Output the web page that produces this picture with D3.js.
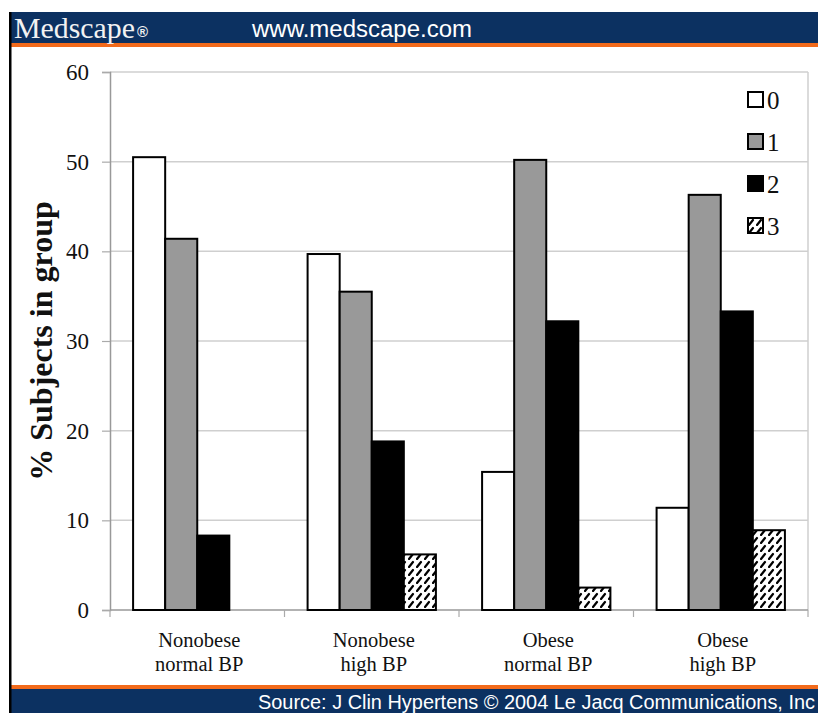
<!DOCTYPE html>
<html>
<head>
<meta charset="utf-8">
<script src="https://cdn.jsdelivr.net/npm/d3@7"></script>
<style>
  html, body { margin: 0; padding: 0; background: #fff; }
  svg { display: block; }
</style>
</head>
<body>
<svg id="chart" width="818" height="713"></svg>
<script>
// Share of subjects by number of risk alleles, per obesity / blood-pressure group
const groups = [["Nonobese", "normal BP"], ["Nonobese", "high BP"], ["Obese", "normal BP"], ["Obese", "high BP"]];
const seriesKeys = ["0", "1", "2", "3"];
const values0 = [50.5, 39.7, 15.4, 11.4];
const values1 = [41.4, 35.5, 50.2, 46.3];
const values2 = [8.3, 18.8, 32.2, 33.3];
const values3 = [0, 6.2, 2.5, 8.9];
const yTicks = [0, 10, 20, 30, 40, 50, 60];

const seriesValues = [values0, values1, values2, values3];
const fills = ["#ffffff", "#999999", "#000000", "url(#hatch)"];

const svg = d3.select("#chart");
const W = 818, H = 713;
const navy = "#0c3161", orange = "#f26a1b";

// hatch fill for the last series
const defs = svg.append("defs");
const pat = defs.append("pattern")
  .attr("id", "hatch").attr("patternUnits", "userSpaceOnUse")
  .attr("width", 8).attr("height", 8);
pat.append("rect").attr("width", 8).attr("height", 8).attr("fill", "#fff");
pat.append("path").attr("d", "M1,7 L5,2").attr("stroke", "#000").attr("stroke-width", 2.2).attr("stroke-linecap", "round");

// header band
svg.append("rect").attr("x", 10).attr("y", 12).attr("width", W - 10).attr("height", 32).attr("fill", navy);
svg.append("rect").attr("x", 10).attr("y", 43).attr("width", W - 10).attr("height", 4).attr("fill", orange);
svg.append("text").attr("x", 14).attr("y", 38)
  .attr("font-family", "Liberation Serif, serif").attr("font-size", 29).attr("fill", "#f2f2f2")
  .attr("textLength", 121).attr("lengthAdjust", "spacingAndGlyphs")
  .text("Medscape");
svg.append("text").attr("x", 137).attr("y", 37)
  .attr("font-family", "Liberation Sans, sans-serif").attr("font-size", 15).attr("font-weight", "bold").attr("fill", "#f2f2f2")
  .text("®");
svg.append("text").attr("x", 252).attr("y", 37)
  .attr("font-family", "Liberation Sans, Arial, sans-serif").attr("font-size", 23).attr("fill", "#ffffff")
  .attr("textLength", 220).attr("lengthAdjust", "spacingAndGlyphs")
  .text("www.medscape.com");

// footer band
svg.append("rect").attr("x", 10).attr("y", 685).attr("width", W - 10).attr("height", 5).attr("fill", orange);
svg.append("rect").attr("x", 10).attr("y", 689).attr("width", W - 10).attr("height", H - 689).attr("fill", navy);
svg.append("text").attr("x", 258).attr("y", 709)
  .attr("font-family", "Liberation Sans, Arial, sans-serif").attr("font-size", 19.5).attr("fill", "#ffffff")
  .attr("textLength", 557).attr("lengthAdjust", "spacingAndGlyphs")
  .text("Source: J Clin Hypertens © 2004 Le Jacq Communications, Inc");

// left border
svg.append("rect").attr("x", 9).attr("y", 12).attr("width", 2.5).attr("height", H - 12).attr("fill", "#000");

// plot area
const plotLeft = 110, plotRight = 808, plotTop = 72, plotBottom = 610;
const x0 = d3.scaleBand().domain(d3.range(groups.length)).range([plotLeft, plotRight]).paddingInner(0).paddingOuter(0);
const x1 = d3.scaleBand().domain(seriesKeys).range([0, x0.bandwidth()]).paddingOuter(0.72).paddingInner(0);
const y = d3.scaleLinear().domain([0, 60]).range([plotBottom, plotTop]);

// grid lines
svg.append("g").selectAll("line").data(yTicks.filter(d => d > 0)).join("line")
  .attr("x1", plotLeft).attr("x2", plotRight)
  .attr("y1", d => y(d)).attr("y2", d => y(d))
  .attr("stroke", "#cfcfcf").attr("stroke-width", 1.5);
// right border of plot
svg.append("line").attr("x1", plotRight).attr("x2", plotRight).attr("y1", plotTop).attr("y2", plotBottom)
  .attr("stroke", "#cfcfcf").attr("stroke-width", 1.5);

// y axis
const yAxis = d3.axisLeft(y).tickValues(yTicks).tickSize(8).tickPadding(13);
const gy = svg.append("g").attr("transform", `translate(${plotLeft},0)`).call(yAxis);
gy.select(".domain").attr("stroke", "#999").attr("stroke-width", 1.5);
gy.selectAll(".tick line").attr("stroke", "#aaa").attr("stroke-width", 1.2);
gy.selectAll(".tick text").attr("font-family", "Liberation Serif, Times New Roman, serif")
  .attr("font-size", 23).attr("fill", "#111");

// x axis baseline and group separators
const gx = svg.append("g");
gx.append("line").attr("x1", plotLeft).attr("x2", plotRight).attr("y1", plotBottom).attr("y2", plotBottom)
  .attr("stroke", "#999").attr("stroke-width", 1.5);
gx.selectAll("line.sep").data(d3.range(groups.length + 1)).join("line").attr("class", "sep")
  .attr("x1", i => plotLeft + i * x0.bandwidth()).attr("x2", i => plotLeft + i * x0.bandwidth())
  .attr("y1", plotBottom).attr("y2", plotBottom + 7)
  .attr("stroke", "#aaa").attr("stroke-width", 1.2);

// category labels
const lab = svg.append("g").selectAll("text").data(groups).join("text")
  .attr("text-anchor", "middle")
  .attr("font-family", "Liberation Serif, Times New Roman, serif")
  .attr("font-size", 20.5).attr("fill", "#111");
lab.append("tspan").attr("x", (d, i) => x0(i) + x0.bandwidth() / 2 + 2).attr("y", 647).text(d => d[0]);
lab.append("tspan").attr("x", (d, i) => x0(i) + x0.bandwidth() / 2 + 2).attr("y", 671).text(d => d[1]);

// y axis title
svg.append("text")
  .attr("transform", `translate(52,${(plotTop + plotBottom) / 2}) rotate(-90)`)
  .attr("text-anchor", "middle")
  .attr("font-family", "Liberation Serif, Times New Roman, serif")
  .attr("font-size", 32).attr("font-weight", "bold").attr("fill", "#111")
  .text("% Subjects in group");

// bars
const gBars = svg.append("g");
groups.forEach((g, gi) => {
  seriesKeys.forEach((k, si) => {
    const v = seriesValues[si][gi];
    if (v <= 0) return;
    gBars.append("rect")
      .attr("x", x0(gi) + x1(k))
      .attr("y", y(v))
      .attr("width", x1.bandwidth())
      .attr("height", y(0) - y(v))
      .attr("fill", fills[si])
      .attr("stroke", "#000").attr("stroke-width", 2);
  });
});

// legend
const leg = svg.append("g").selectAll("g").data(seriesKeys).join("g")
  .attr("transform", (d, i) => `translate(748,${92 + i * 42})`);
leg.append("rect").attr("width", 15).attr("height", 15)
  .attr("fill", (d, i) => fills[i]).attr("stroke", "#000").attr("stroke-width", 2);
leg.append("text").attr("x", 19).attr("y", 17)
  .attr("font-family", "Liberation Serif, Times New Roman, serif")
  .attr("font-size", 25).attr("fill", "#111")
  .text(d => d);
</script>
</body>
</html>
